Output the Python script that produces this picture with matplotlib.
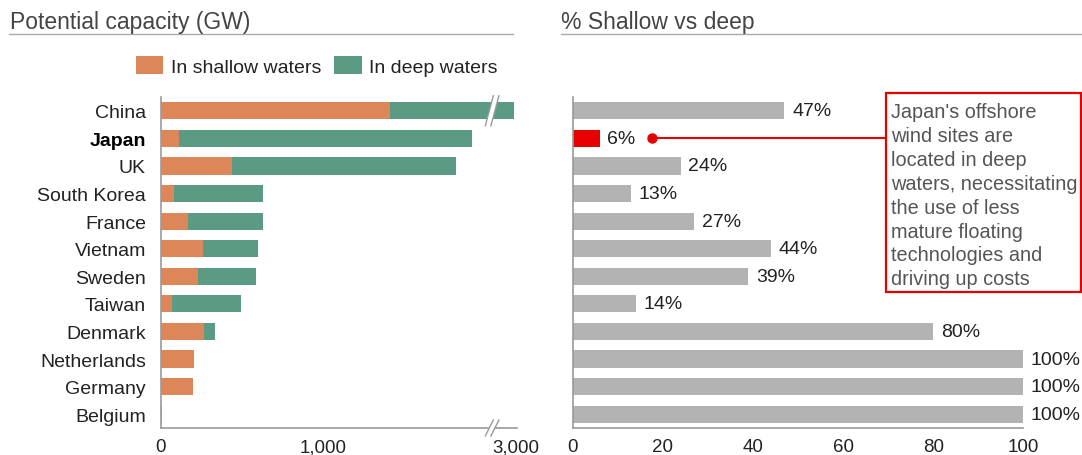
import numpy as np
import matplotlib
matplotlib.use("Agg")
import matplotlib.pyplot as plt
from matplotlib.lines import Line2D
from matplotlib.patches import Rectangle, Patch, Polygon
import matplotlib.transforms as mtransforms

plt.rcParams['font.family'] = ['Liberation Sans', 'DejaVu Sans']

# offshore wind potential by country
countries = ['China', 'Japan', 'UK', 'South Korea', 'France', 'Vietnam',
             'Sweden', 'Taiwan', 'Denmark', 'Netherlands', 'Germany', 'Belgium']
shallow_gw = [1410, 115, 437, 82, 170, 264, 228, 70, 267, 205, 197, 7]
deep_gw = [1520, 1799, 1381, 546, 458, 337, 357, 428, 67, 0, 0, 0]
shallow_pct = [47, 6, 24, 13, 27, 44, 39, 14, 80, 100, 100, 100]

gw_ticks = [0, 1000, 3000]
gw_ticklabels = ['0', '1,000', '3,000']
pct_ticks = [0, 20, 40, 60, 80, 100]

note_lines = ["Japan's offshore", "wind sites are", "located in deep",
              "waters, necessitating", "the use of less", "mature floating",
              "technologies and", "driving up costs"]

ORANGE = '#DC865A'
GREEN = '#5B9B84'
GREY_BAR = '#B3B3B3'
RED = '#E60000'
AXIS = '#9A9A9A'
TXT = '#222222'
TITLE = '#444444'

W, H = 1082, 456


def px_box(x0, y0, x1, y1):
    return [x0 / W, 1 - y1 / H, (x1 - x0) / W, (y1 - y0) / H]


# squeeze everything past 2,000 GW so China fits
BREAK = 2000
SQUEEZE = 0.188


def fwd(x):
    x = np.asarray(x, dtype=float)
    return np.where(x <= BREAK, x, BREAK + (x - BREAK) * SQUEEZE)


def inv(y):
    y = np.asarray(y, dtype=float)
    return np.where(y <= BREAK, y, BREAK + (y - BREAK) / SQUEEZE)


fig = plt.figure(figsize=(W / 100, H / 100), dpi=100)
ax1 = fig.add_axes(px_box(160.5, 98, 516.7, 429))
ax2 = fig.add_axes(px_box(572.7, 98, 1023.3, 429))

y = np.arange(len(countries))
bar_h = 0.62

# left: stacked capacity
ax1.set_xscale('function', functions=(fwd, inv))
ax1.barh(y, shallow_gw, height=bar_h, color=ORANGE)
ax1.barh(y, deep_gw, left=shallow_gw, height=bar_h, color=GREEN)
ax1.set_xlim(0, 3020)
ax1.set_xticks(gw_ticks)
ax1.set_xticklabels(gw_ticklabels)
ax1.set_yticks(y)
ax1.set_yticklabels(countries)
ax1.set_ylim(len(countries) - 0.5, -0.5)
ax1.tick_params(axis='y', length=0, pad=10.5, labelsize=14, labelcolor=TXT)
ax1.tick_params(axis='x', length=0, pad=7.5, labelsize=13.5, labelcolor=TXT)
for lbl in ax1.get_yticklabels():
    if lbl.get_text() == 'Japan':
        lbl.set_fontweight('bold')
        lbl.set_color('black')

# right: shallow share
bar_colors = [RED if c == 'Japan' else GREY_BAR for c in countries]
ax2.barh(y, shallow_pct, height=bar_h, color=bar_colors)
ax2.set_xlim(0, 100)
ax2.set_xticks(pct_ticks)
ax2.set_yticks([])
ax2.set_ylim(len(countries) - 0.5, -0.5)
ax2.tick_params(axis='x', length=0, pad=7.5, labelsize=13.5, labelcolor=TXT)
for i, p in enumerate(shallow_pct):
    ax2.annotate(f'{p}%', xy=(p, i), xytext=(5.5, 0), textcoords='offset points',
                 va='center', ha='left', fontsize=14, color=TXT,
                 annotation_clip=False)

for ax in (ax1, ax2):
    for side in ('top', 'right'):
        ax.spines[side].set_visible(False)
    for side in ('left', 'bottom'):
        ax.spines[side].set_color(AXIS)
        ax.spines[side].set_linewidth(1.2)
    ax.set_facecolor('none')

# axis break marks (on China's bar and on the x axis)
brk = float(fwd(2215)) / float(fwd(3020))
dx = 4 / 356.2
gap = 2.8 / 356.2
row_px = 331 / 12.0


def break_mark(ax, yc, half, trans):
    xa, xb = brk - gap, brk + gap
    ax.add_patch(Polygon([[xa - dx, yc - half], [xb - dx, yc - half],
                          [xb + dx, yc + half], [xa + dx, yc + half]],
                         closed=True, facecolor='white', edgecolor='none',
                         transform=trans, clip_on=False, zorder=3))
    for xx in (xa, xb):
        ax.add_line(Line2D([xx - dx, xx + dx], [yc - half, yc + half],
                           color=AXIS, lw=1.0, transform=trans, clip_on=False,
                           zorder=4))


bar_trans = mtransforms.blended_transform_factory(ax1.transAxes, ax1.transData)
break_mark(ax1, 0, -15 / row_px, bar_trans)
break_mark(ax1, 0, 8 / 331, ax1.transAxes)

# legend
handles = [Patch(facecolor=ORANGE, label='In shallow waters'),
           Patch(facecolor=GREEN, label='In deep waters')]
fig.legend(handles=handles, loc='center', bbox_to_anchor=(316.7 / W, 1 - 67 / H),
           ncol=2, frameon=False, fontsize=14, handlelength=1.41,
           handleheight=1.03, handletextpad=0.39, columnspacing=0.67,
           labelcolor=TXT, borderpad=0, borderaxespad=0)

# panel titles with rules
fig.text(10 / W, 1 - 29 / H, 'Potential capacity (GW)', fontsize=16.5, color=TITLE,
         va='baseline', ha='left')
fig.text(561 / W, 1 - 29 / H, '% Shallow vs deep', fontsize=16.5, color=TITLE,
         va='baseline', ha='left')
fig.add_artist(Line2D([9 / W, 513 / W], [1 - 34.7 / H] * 2, color='#AAAAAA', lw=1.0))
fig.add_artist(Line2D([561 / W, 1082 / W], [1 - 34.7 / H] * 2, color='#AAAAAA', lw=1.0))

# callout for Japan
jp = countries.index('Japan')
dot_x = 17.7
box_x = 69.5
ax2.plot([dot_x, box_x], [jp, jp], color=RED, lw=1.5, clip_on=False, zorder=5)
ax2.plot(dot_x, jp, 'o', color=RED, ms=6.5, clip_on=False, zorder=6)
fig.add_artist(Rectangle((885.7 / W, 1 - 292.7 / H), 195 / W, 198.7 / H,
                         transform=fig.transFigure, facecolor='white',
                         edgecolor=RED, lw=1.6, zorder=5))
for j, line in enumerate(note_lines):
    fig.text(890.7 / W, 1 - (118 + 23.9 * j) / H, line, fontsize=14.3, color='#555555',
             va='baseline', ha='left', zorder=6)

fig.savefig('out.png', dpi=100)
